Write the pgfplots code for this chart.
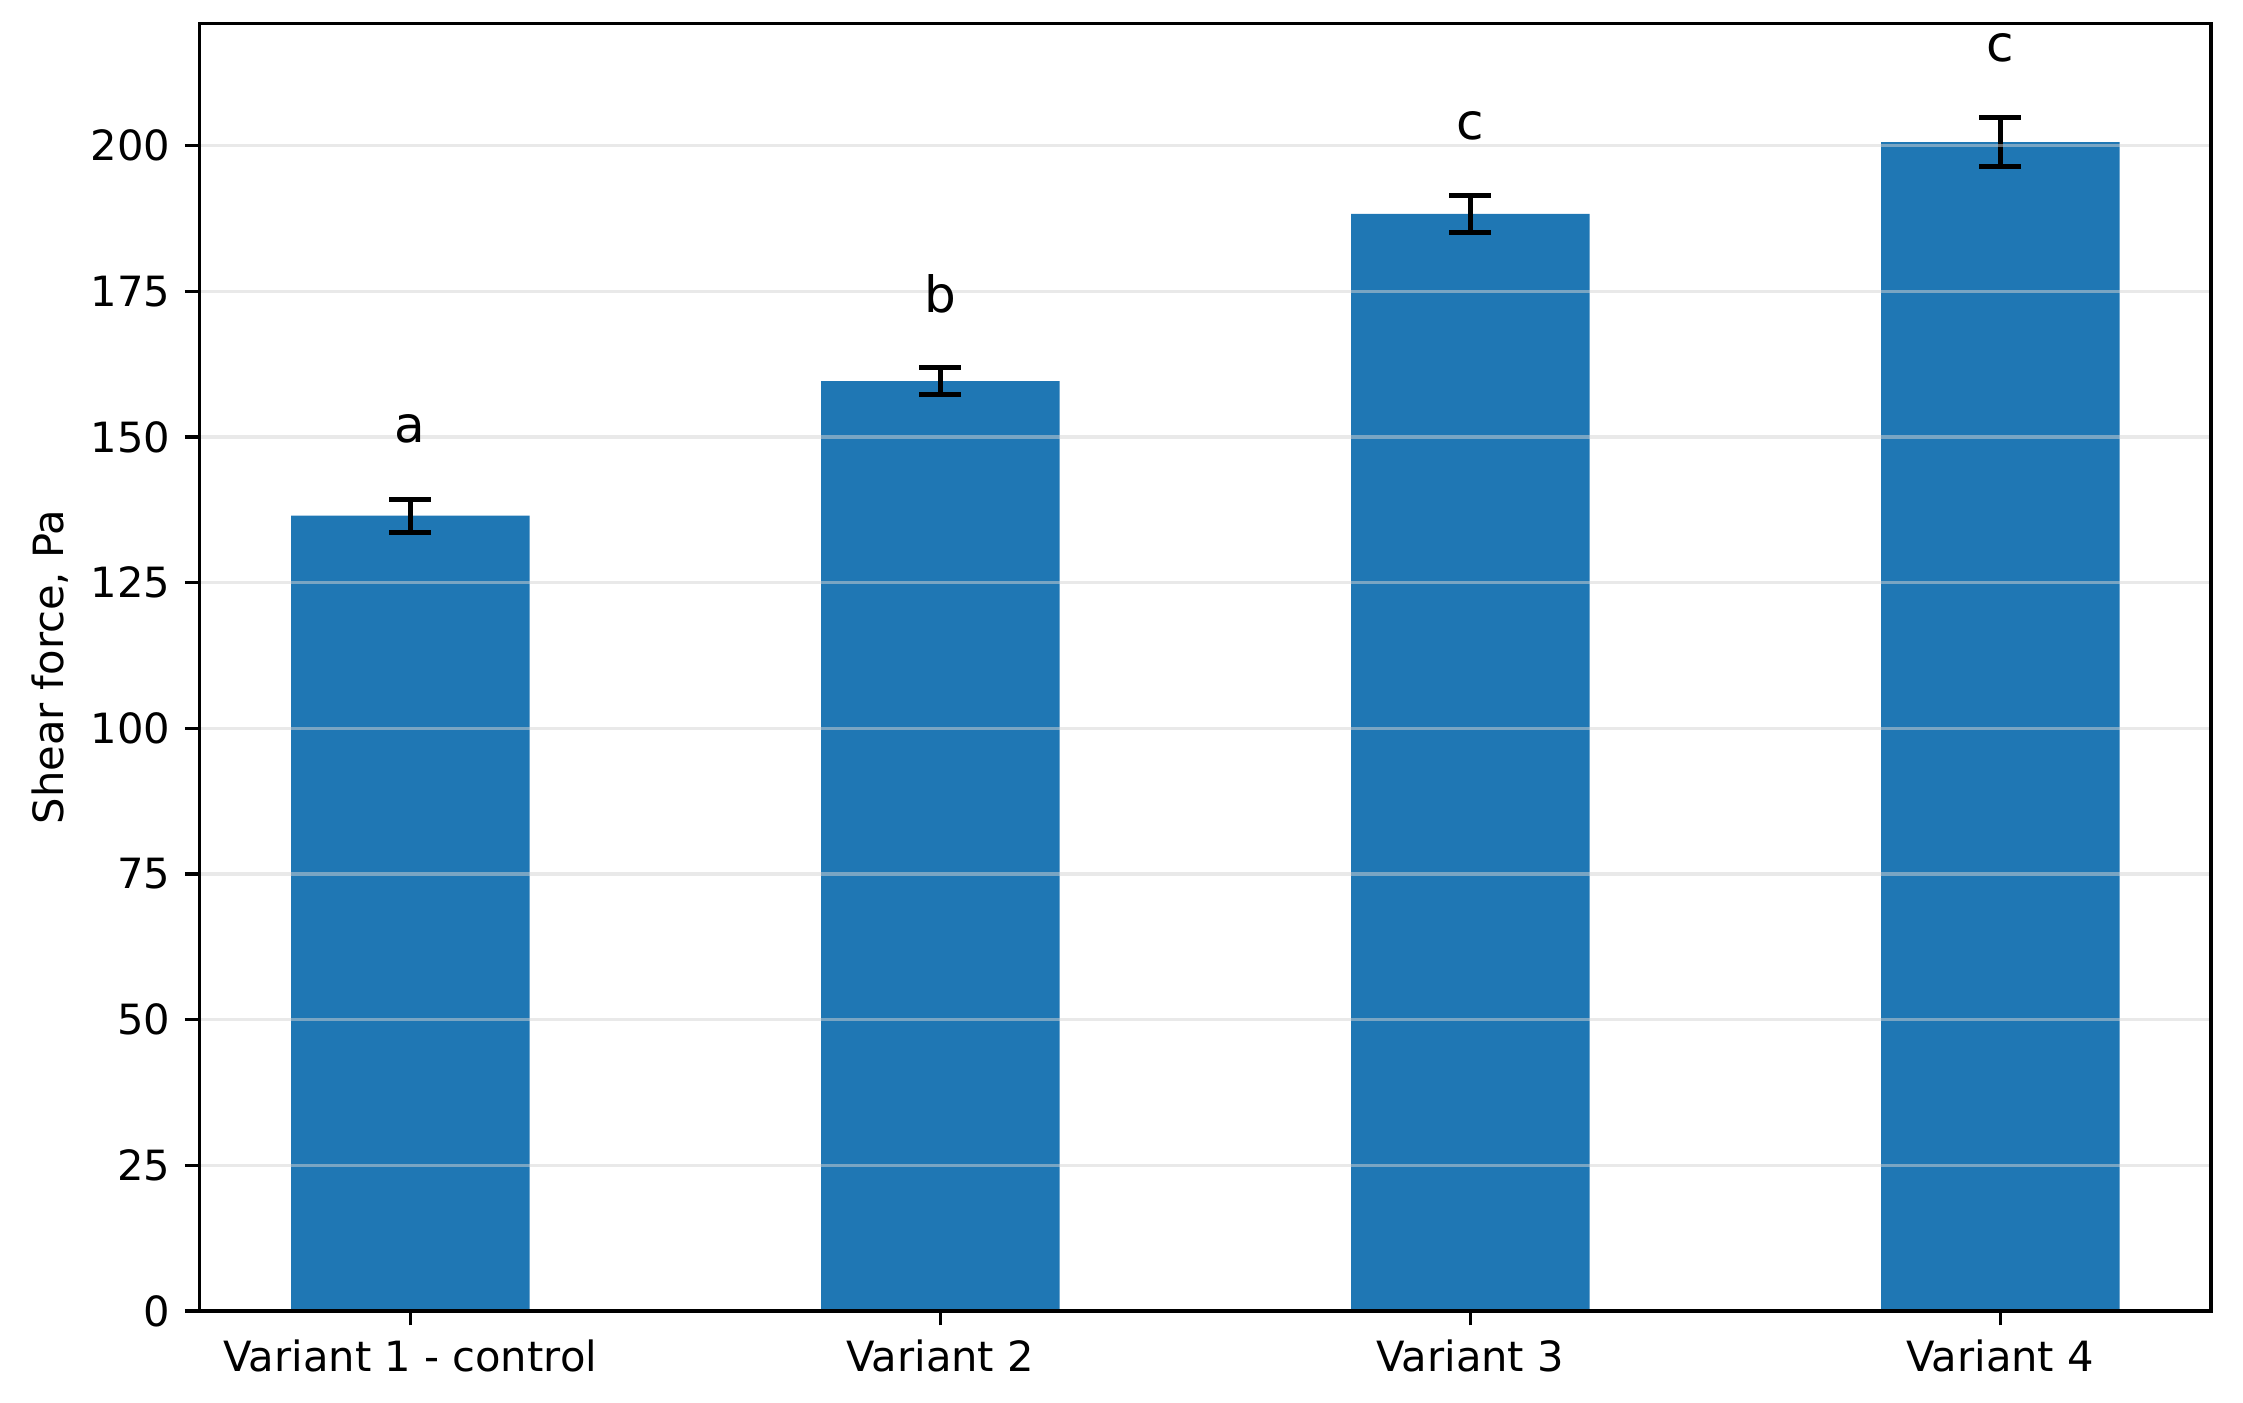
\documentclass[border=0pt]{standalone}
\usepackage{fontspec}
\setmainfont{DejaVu Sans}
\usepackage{pgfplots}
\pgfplotsset{compat=1.18}
\definecolor{mplblue}{HTML}{1F77B4}
\definecolor{gridc}{HTML}{D3D3D3}
\begin{document}
\begin{tikzpicture}
\begin{axis}[
  scale only axis,
  width=482.7pt, height=309pt,
  xmin=-0.3975, xmax=3.3975,
  ymin=0, ymax=221,
  xtick={0,1,2,3},
  xticklabels={Variant 1 - control, Variant 2, Variant 3, Variant 4},
  ytick={0,25,50,75,100,125,150,175,200},
  tick align=outside,
  tick pos=left,
  major tick length=3.5pt,
  every tick/.style={black, line width=0.8pt},
  axis line style={line width=0.8pt},
  ymajorgrids=true,
  grid style={gridc, opacity=0.5, line width=0.8pt},
  axis on top,
  /pgf/number format/assume math mode=true,
  tick label style={font=\fontsize{10}{12}\selectfont},
  ylabel={Shear force, Pa},
  ylabel style={font=\fontsize{10}{12}\selectfont},
  every axis y label/.style={at={(axis description cs:-0.0743,0.5)}, rotate=90, anchor=center},
  clip=false,
]
\addplot[ybar, bar width=0.45, fill=mplblue, draw=none,
  error bars/.cd, y dir=both, y explicit,
  error bar style={black, line width=1.2pt},
  error mark options={black, line width=1.2pt, mark size=5pt, rotate=90}]
coordinates {
  (0,136.5) +- (0,2.85)
  (1,159.6) +- (0,2.3)
  (2,188.3) +- (0,3.2)
  (3,200.6) +- (0,4.2)
};
\addplot[draw=none, mark=none, nodes near coords, point meta=explicit symbolic,
  every node near coord/.append style={anchor=base, inner sep=0pt, font=\fontsize{12}{14}\selectfont, black}]
coordinates {
  (0,149.1) [a]
  (1,171.4) [b]
  (2,201.1) [c]
  (3,214.5) [c]
};
\path (rel axis cs:0,0) ++(-47.9pt,-22.1pt) coordinate (bbsw);
\path (rel axis cs:1,1) ++(7.7pt,5.6pt) coordinate (bbne);
\end{axis}
\path[use as bounding box] (bbsw) rectangle (bbne);
\end{tikzpicture}
\end{document}
